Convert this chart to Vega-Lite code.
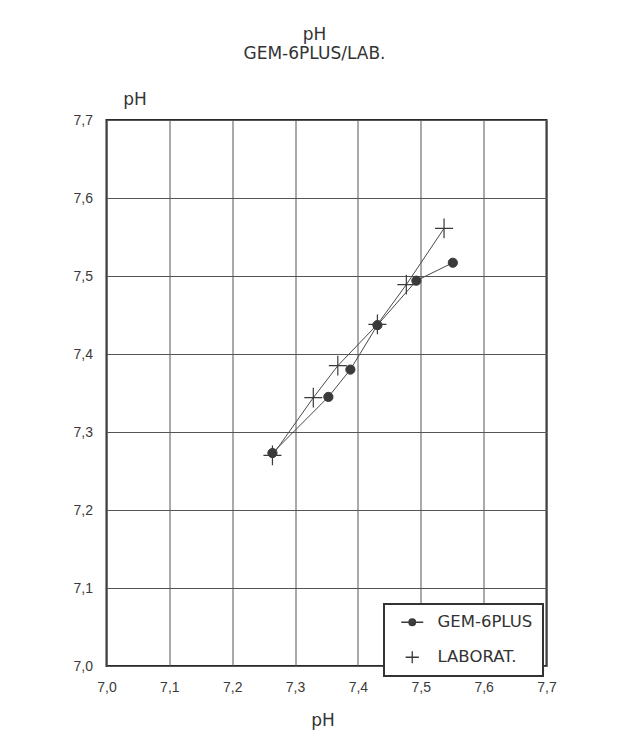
{
  "$schema": "https://vega.github.io/schema/vega-lite/v6.json",
  "width": 440,
  "height": 546,
  "autosize": {"type": "none"},
  "padding": {"left": 106.5, "top": 120, "right": 74.5, "bottom": 84},
  "background": "white",
  "title": {
    "text": ["pH", "GEM-6PLUS/LAB."],
    "font": "DejaVu Sans",
    "fontSize": 17,
    "fontWeight": "normal",
    "color": "#333333",
    "lineHeight": 19,
    "anchor": "middle",
    "frame": "group",
    "offset": 27,
    "dx": -12
  },
  "data": {
    "values": [
      {"series": "GEM-6PLUS", "i": 1, "x": 7.264, "y": 7.273},
      {"series": "GEM-6PLUS", "i": 2, "x": 7.353, "y": 7.345},
      {"series": "GEM-6PLUS", "i": 3, "x": 7.388, "y": 7.380},
      {"series": "GEM-6PLUS", "i": 4, "x": 7.431, "y": 7.437},
      {"series": "GEM-6PLUS", "i": 5, "x": 7.493, "y": 7.494},
      {"series": "GEM-6PLUS", "i": 6, "x": 7.551, "y": 7.517},
      {"series": "LABORAT.", "i": 1, "x": 7.264, "y": 7.270},
      {"series": "LABORAT.", "i": 2, "x": 7.329, "y": 7.344},
      {"series": "LABORAT.", "i": 3, "x": 7.368, "y": 7.385},
      {"series": "LABORAT.", "i": 4, "x": 7.431, "y": 7.438},
      {"series": "LABORAT.", "i": 5, "x": 7.477, "y": 7.489},
      {"series": "LABORAT.", "i": 6, "x": 7.537, "y": 7.561}
    ]
  },
  "encoding": {
    "x": {
      "field": "x",
      "type": "quantitative",
      "scale": {"domain": [7.0, 7.7], "nice": false, "zero": false},
      "axis": {
        "title": "pH",
        "values": [7.0, 7.1, 7.2, 7.3, 7.4, 7.5, 7.6, 7.7],
        "labelExpr": "replace(format(datum.value, '.1f'), '.', ',')",
        "labelFont": "Liberation Sans",
        "labelFontSize": 14,
        "labelColor": "#3a3a3a",
        "labelPadding": 14,
        "titleX": 216,
        "titleY": 59,
        "titleAlign": "center",
        "titleBaseline": "alphabetic"
      }
    },
    "y": {
      "field": "y",
      "type": "quantitative",
      "scale": {"domain": [7.0, 7.7], "nice": false, "zero": false},
      "axis": {
        "title": "pH",
        "values": [7.0, 7.1, 7.2, 7.3, 7.4, 7.5, 7.6, 7.7],
        "labelExpr": "replace(format(datum.value, '.1f'), '.', ',')",
        "labelFont": "Liberation Sans",
        "labelFontSize": 14,
        "labelColor": "#3a3a3a",
        "labelPadding": 14,
        "titleAngle": 0,
        "titleX": 28,
        "titleY": -16,
        "titleAlign": "center",
        "titleBaseline": "alphabetic"
      }
    }
  },
  "layer": [
    {
      "mark": {"type": "line", "color": "#4a4a4a", "strokeWidth": 1},
      "encoding": {
        "detail": {"field": "series", "type": "nominal"},
        "order": {"field": "i", "type": "quantitative"}
      }
    },
    {
      "transform": [{"filter": "datum.series === 'GEM-6PLUS'"}],
      "mark": {
        "type": "point",
        "shape": "circle",
        "filled": true,
        "fill": "#3a3a3a",
        "stroke": "#3a3a3a",
        "strokeWidth": 1,
        "size": 85,
        "opacity": 1
      }
    },
    {
      "transform": [{"filter": "datum.series === 'LABORAT.'"}],
      "mark": {
        "type": "point",
        "shape": "M-1,0H1M0,-1.1V1.1",
        "filled": false,
        "stroke": "#3a3a3a",
        "strokeWidth": 1.2,
        "size": 324,
        "opacity": 1
      }
    },
    {
      "transform": [{"filter": "datum.i < 0"}],
      "mark": {
        "type": "point",
        "filled": false,
        "color": "#3a3a3a",
        "strokeWidth": 1.3,
        "opacity": 1
      },
      "encoding": {
        "shape": {
          "field": "series",
          "type": "nominal",
          "scale": {
            "domain": ["GEM-6PLUS", "LABORAT."],
            "range": [
              "M-1.83,0H1.83M0.55,0A0.55,0.55,0,1,1,-0.55,0A0.55,0.55,0,1,1,0.55,0ZM0.35,0A0.35,0.35,0,1,1,-0.35,0A0.35,0.35,0,1,1,0.35,0ZM0.15,0A0.15,0.15,0,1,1,-0.15,0A0.15,0.15,0,1,1,0.15,0Z",
              "M-1.1,0H1.1M0,-1V1"
            ]
          },
          "legend": {
            "title": null,
            "orient": "none",
            "legendX": 277.5,
            "legendY": 484,
            "direction": "vertical",
            "padding": 10,
            "symbolOffset": 10,
            "labelOffset": 17,
            "rowPadding": 17,
            "strokeColor": "#333333",
            "fillColor": "white",
            "symbolSize": 144,
            "symbolStrokeColor": "#3a3a3a",
            "symbolStrokeWidth": 1.3,
            "symbolOpacity": 1,
            "labelFont": "DejaVu Sans",
            "labelFontSize": 16.5,
            "labelColor": "#333333"
          }
        }
      }
    }
  ],
  "config": {
    "view": {"stroke": "#2b2b2b", "strokeWidth": 2},
    "axis": {
      "grid": true,
      "gridColor": "#555555",
      "gridWidth": 1,
      "gridOpacity": 1,
      "ticks": false,
      "tickSize": 0,
      "domain": false,
      "labelFlush": false,
      "labelOverlap": false,
      "labelBound": false,
      "titleFont": "DejaVu Sans",
      "titleFontSize": 17,
      "titleFontWeight": "normal",
      "titleColor": "#333333"
    },
    "legend": {"strokeWidth": 2}
  }
}
